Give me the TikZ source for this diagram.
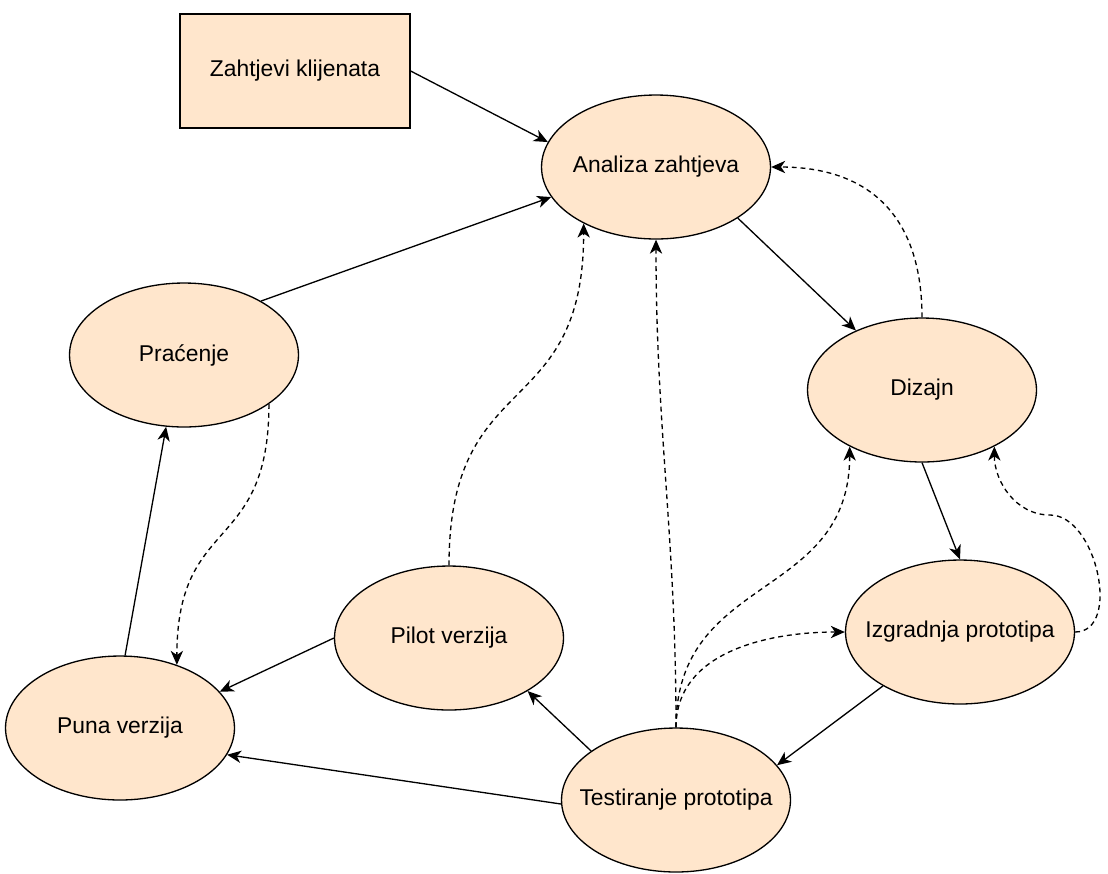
\documentclass[tikz,border=0pt]{standalone}
\usepackage{fontspec}
\setmainfont{Liberation Sans}
\usetikzlibrary{shapes.geometric,arrows.meta}

\definecolor{peach}{HTML}{FFE6CC}
\newcommand{\etxt}[1]{\makebox[0pt]{#1}}

\begin{document}
\begin{tikzpicture}[x=0.02cm,y=0.02cm,every node/.style={font=\fontsize{13}{15}\selectfont},faza/.style={shape=ellipse,draw=black,fill=peach,line width=0.75pt,minimum width=4.58cm,minimum height=2.88cm,inner sep=0pt},ulaz/.style={shape=rectangle,draw=black,fill=peach,line width=0.75pt,minimum width=4.6cm,minimum height=2.28cm},tok/.style={-{Stealth[length=8pt,width=7pt,inset=2.4pt]},line width=0.75pt},povrat/.style={tok,dash pattern=on 2.8pt off 2.2pt}]
\useasboundingbox (0,0) rectangle (1108,-873);

\node[ulaz] (Z) at (295,-71) {Zahtjevi klijenata};
\node[faza] (A) at (656,-167) {\etxt{Analiza zahtjeva}};
\node[faza] (P) at (184,-355) {\etxt{Praćenje}};
\node[faza] (D) at (922,-390) {\etxt{Dizajn}};
\node[faza] (PV) at (449,-638) {\etxt{Pilot verzija}};
\node[faza] (I) at (960,-632) {\etxt{Izgradnja prototipa}};
\node[faza] (PU) at (120,-728) {\etxt{Puna verzija}};
\node[faza] (T) at (676,-800) {\etxt{Testiranje prototipa}};

% glavni tok
\draw[tok] (Z.east) -- (A.167);
\draw[tok] (P.35) -- (A.196);
\draw[tok] (A.328) -- (D.138);
\draw[tok] (D.south) -- (I.north);
\draw[tok] (I.215) -- (T.19);
\draw[tok] (T.150) -- (PV.326);
\draw[tok] (T.182) -- (PU.346);
\draw[tok] (PV.west) -- (PU.20);
\draw[tok] (PU.86) -- (P.256);

% povratne veze
\draw[povrat] (D.north) to[out=90,in=0,looseness=1.2] (A.east);
\draw[povrat] (T.north) to[out=90,in=-90] (A.south);
\draw[povrat] (T.north) to[out=90,in=-90,looseness=1.2] (D.218);
\draw[povrat] (T.north) to[out=90,in=180] (I.west);
\coordinate (zaokret) at (1050,-515);
\draw[povrat] (I.east) to[out=0,in=0] (zaokret) to[out=180,in=-90] (D.322);
\draw[povrat] (P.330) to[out=-90,in=90,looseness=1.4] (PU.48);
\draw[povrat] (PV.north) to[out=90,in=-90,looseness=1.4] (A.218);
\end{tikzpicture}
\end{document}
